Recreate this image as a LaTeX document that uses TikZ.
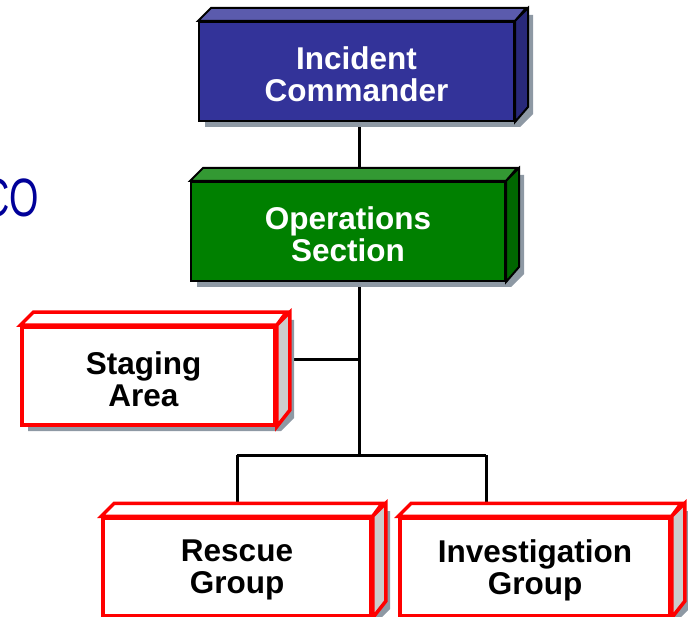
\documentclass[tikz,border=0pt]{standalone}
\usepackage{fontspec}
\setmainfont{Liberation Sans}
\usetikzlibrary{calc}

\definecolor{icfront}{HTML}{333399}
\definecolor{ictop}{HTML}{5B5BAD}
\definecolor{icside}{HTML}{29297A}
\definecolor{opsfront}{HTML}{008000}
\definecolor{opstop}{HTML}{339933}
\definecolor{opsside}{HTML}{006600}
\definecolor{unitfront}{HTML}{FFFFFF}
\definecolor{unittop}{HTML}{FFFFFF}
\definecolor{unitside}{HTML}{CCCCCC}
\definecolor{unitline}{HTML}{FF0000}
\definecolor{shadowgray}{HTML}{8E99A4}
\definecolor{titleblue}{HTML}{000099}

\tikzset{
  icedge/.style={draw=black, line width=2pt, line join=miter},
  opsedge/.style={draw=black, line width=2pt, line join=miter},
  unitedge/.style={draw=unitline, line width=3.5pt, line join=miter},
  ictext/.style={text=white},
  opstext/.style={text=white},
  unittext/.style={text=black},
  boxlabel/.style={font=\fontsize{31.5}{32}\selectfont\bfseries, align=center,
                   inner sep=0pt, yshift=-3pt},
  link/.style={draw=black, line width=3pt},
}

% 3-D box: #1 name, #2 centre x, #3 centre y, #4 width, #5 height,
% #6 colour set, #7 label, #8 extra label options
\newcommand\prismbox[8]{%
  \fill[shadowgray]
    ({#2-#4/2+6},{#3-#5/2+6}) -- ++(13,-13) -- ++(#4,0) -- ++(0,#5)
    -- ({#2+#4/2+6},{#3+#5/2+6}) -- ({#2-#4/2+6},{#3+#5/2+6}) -- cycle;
  \node[#6edge, fill=#6front, minimum width=#4pt, minimum height=#5pt,
        inner sep=0pt] (#1) at (#2,#3) {};
  \node[boxlabel, #6text, #8] at (#1.center) {#7};
  \filldraw[#6edge, fill=#6top]
    (#1.north west) -- ++(13,-13) -- ++(#4,0) -- (#1.north east) -- cycle;
  \filldraw[#6edge, fill=#6side]
    (#1.north east) -- ++(13,-13) -- ++(0,#5) -- (#1.south east) -- cycle;
}

\begin{document}
\begin{tikzpicture}[x=1pt, y=-1pt]
  \useasboundingbox (0,0) rectangle (688,617);
  \clip (0,0) rectangle (688,617);

  % heading fragment at the left edge
  \node[anchor=base east, inner sep=0pt, text=titleblue,
        font=\fontsize{54}{54}\selectfont] (head) at (39,217)
        {\scalebox{0.7}[1]{CO}};

  % junction points of the tree
  \coordinate (jstage) at (359,360);
  \coordinate (jsplit) at (359,455);
  \coordinate (jleft)  at (237,455);
  \coordinate (jright) at (486,455);

  % connectors (drawn first so the boxes sit on top)
  \draw[link] (jstage |- 0,121) -- (jstage |- 0,172);
  \draw[link] (jstage |- 0,281) -- (jsplit);
  \draw[link] (275,0 |- jstage) -- (jstage);
  \draw[link] (jleft) -- (jright);
  \draw[link] (jleft) -- (jleft |- 0,518);
  \draw[link] (jright) -- (jright |- 0,518);

  \prismbox{ic}{356.5}{71.5}{315}{99}{ic}{Incident\\Commander}{}
  \prismbox{ops}{348}{231.5}{314}{99}{ops}{Operations\\Section}{}
  \prismbox{stage}{148.5}{376}{253}{98}{unit}{Staging\\Area}{xshift=-5pt}
  \prismbox{rescue}{237}{567}{268}{98}{unit}{Rescue\\Group}{}
  \prismbox{invest}{535}{567}{270}{98}{unit}{Investigation\\Group}{}
\end{tikzpicture}
\end{document}
